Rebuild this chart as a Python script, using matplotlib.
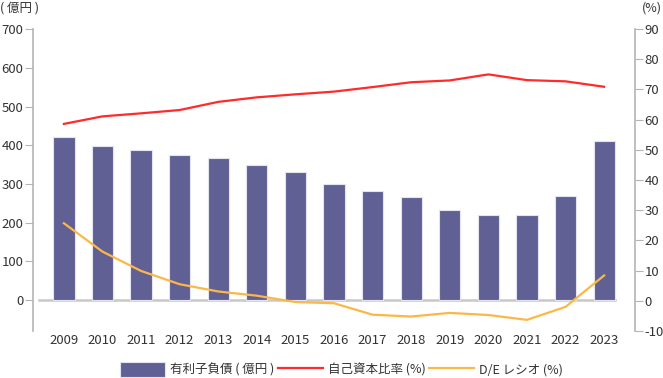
import matplotlib
matplotlib.use("Agg")
import matplotlib.pyplot as plt
import numpy as np

plt.rcParams["font.family"] = ["Noto Sans CJK JP", "DejaVu Sans"]
plt.rcParams["axes.unicode_minus"] = False

# ── データ ─────────────────────────────────────────────
years = ["2009", "2010", "2011", "2012", "2013", "2014", "2015", "2016",
         "2017", "2018", "2019", "2020", "2021", "2022", "2023"]
debt = [420, 398, 388, 376, 368, 350, 330, 301, 283, 265, 232, 221, 221, 268, 410]
equity_ratio = [58.6, 61.1, 62.1, 63.2, 65.9, 67.4, 68.4, 69.3,
                70.8, 72.4, 73.0, 75.0, 73.1, 72.7, 70.9]
de_ratio = [25.7, 16.3, 9.9, 5.5, 3.1, 1.7, -0.4, -0.8,
            -4.6, -5.2, -4.0, -4.7, -6.3, -2.0, 8.4]

left_ticks = [0, 100, 200, 300, 400, 500, 600, 700]
right_ticks = [-10, 0, 10, 20, 30, 40, 50, 60, 70, 80, 90]

bar_color = "#606095"
red = "#ff2b2b"
orange = "#fbb748"
axis_grey = "#b4b4b4"
text_col = "#333333"

fig = plt.figure(figsize=(6.63, 3.78), dpi=100)
ax = fig.add_axes([0.0498, 0.1243, 0.908, 0.7987])
ax2 = ax.twinx()

x = np.arange(len(years))
ax.bar(x, debt, width=0.55, color=bar_color, edgecolor="#e4e4f0",
       linewidth=0.8, zorder=2, label="有利子負債 ( 億円 )")
ax.axhline(0, xmin=0.01, xmax=0.967, color="#c8c8c8", lw=1.8, zorder=1)

ax2.plot(x, equity_ratio, color=red, lw=1.6, zorder=3, label="自己資本比率 (%)")
ax2.plot(x, de_ratio, color=orange, lw=1.6, zorder=3, label="D/E レシオ (%)")

ax.set_xlim(-0.8, 14.8)
ax.set_ylim(-80, 700)
ax2.set_ylim(-10, 90)
ax.set_yticks(left_ticks)
ax2.set_yticks(right_ticks)
ax.set_xticks(x)
ax.set_xticklabels(years)

for a in (ax, ax2):
    for s in ("top", "bottom"):
        a.spines[s].set_visible(False)
ax.spines["right"].set_visible(False)
ax2.spines["left"].set_visible(False)
ax.spines["left"].set_color(axis_grey)
ax2.spines["right"].set_color(axis_grey)
ax.spines["left"].set_linewidth(1.2)
ax2.spines["right"].set_linewidth(1.2)

ax.tick_params(axis="y", length=6, color=axis_grey, labelsize=9.5,
               labelcolor=text_col, pad=1)
ax2.tick_params(axis="y", length=6, color=axis_grey, labelsize=9.5,
                labelcolor=text_col, pad=1)
ax.tick_params(axis="x", length=0, labelsize=9.5, labelcolor=text_col, pad=2)

fig.text(0.0, 0.978, "( 億円 )", fontsize=9, color=text_col, ha="left", va="center")
fig.text(0.9985, 0.978, "(%)", fontsize=9, color=text_col, ha="right", va="center")

h1, l1 = ax.get_legend_handles_labels()
h2, l2 = ax2.get_legend_handles_labels()
fig.legend(h1 + h2, l1 + l2, loc="center", bbox_to_anchor=(0.515, 0.022),
           ncol=3, frameon=False, fontsize=9, handlelength=3.6,
           handleheight=1.4, columnspacing=0.3, handletextpad=0.4,
           labelcolor=text_col)

fig.savefig("out.png", dpi=100)
